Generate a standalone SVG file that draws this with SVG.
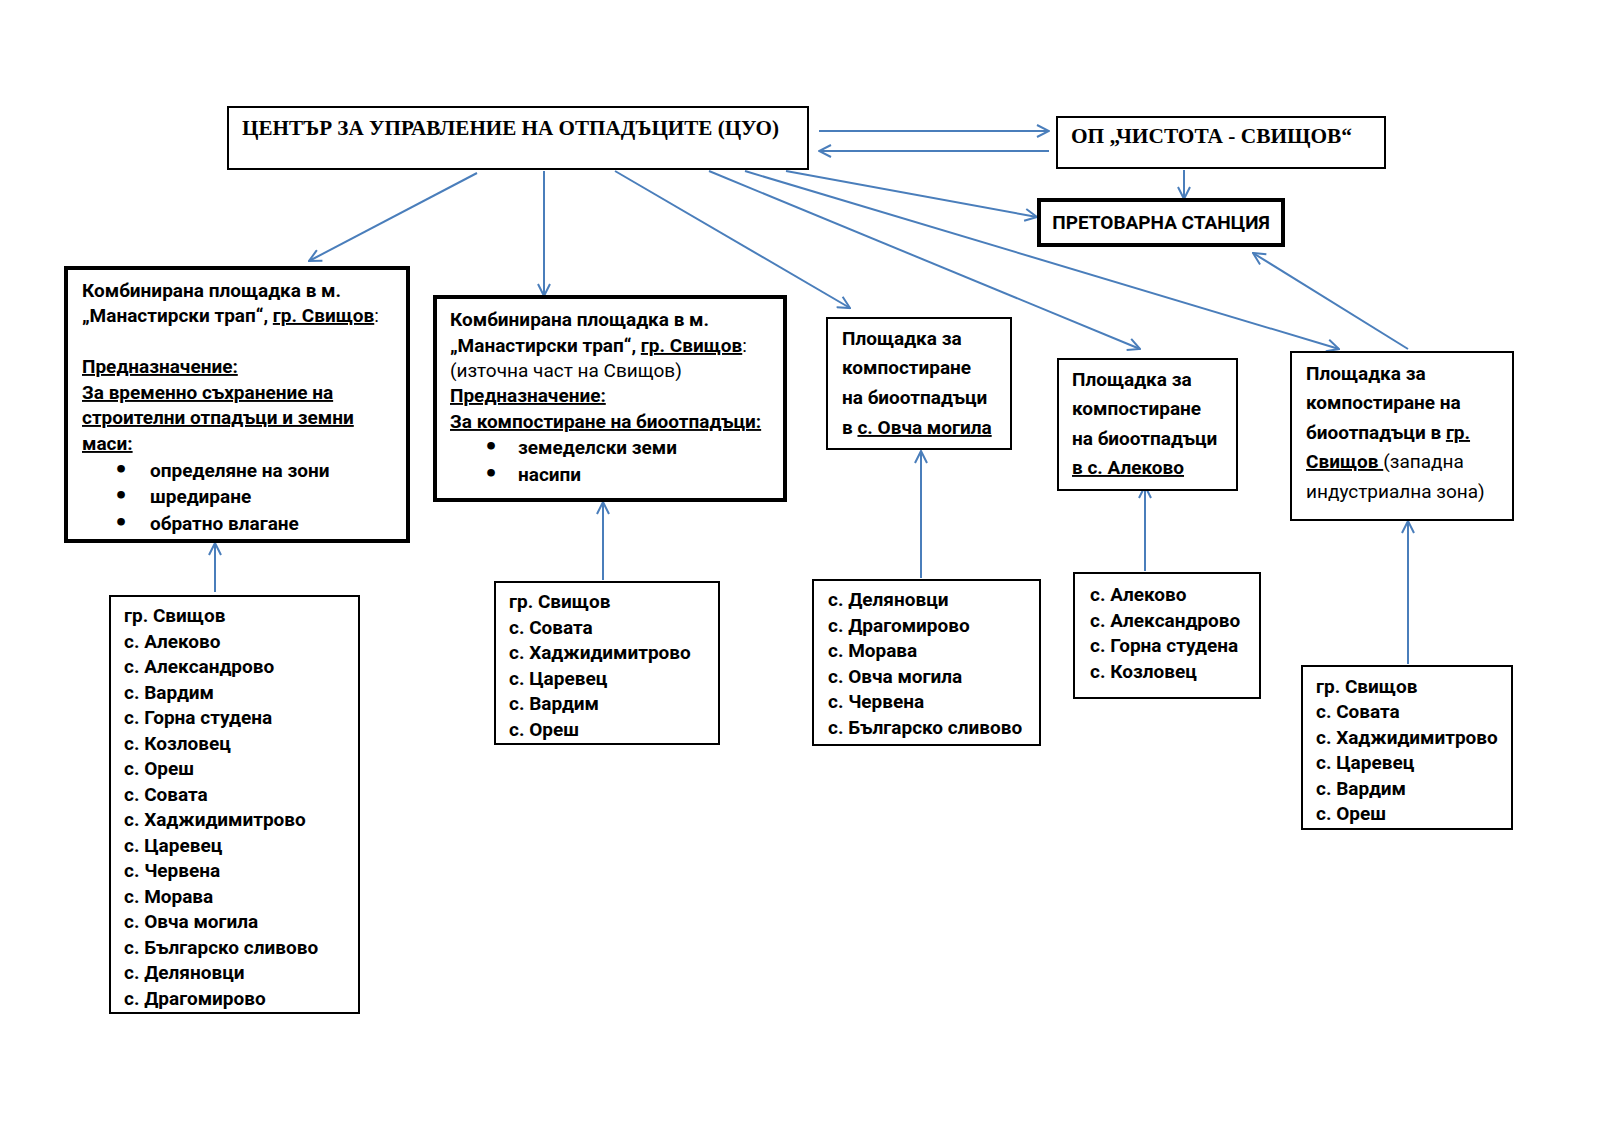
<svg xmlns="http://www.w3.org/2000/svg" width="1600" height="1131" viewBox="0 0 1600 1131">
<defs>
<style>
.bx{fill:#fff;stroke:#000;stroke-width:2}
.bxt{fill:#fff;stroke:#000;stroke-width:4}
.t{font-family:Roboto,"Liberation Sans",sans-serif;font-size:19px;font-weight:bold;fill:#000}
.r{font-weight:normal}
.u{text-decoration:underline}
.b{font-family:"DejaVu Sans",sans-serif;font-size:22px}
.s{font-family:"Liberation Serif","Times New Roman",serif;font-size:21px;font-weight:bold;fill:#000}
.c{stroke:#4A7EBB;stroke-width:2;fill:none;marker-end:url(#ah)}
</style>
<marker id="ah" viewBox="0 0 14 14" refX="13" refY="7" markerWidth="14" markerHeight="14" markerUnits="userSpaceOnUse" orient="auto">
<path d="M1,1 L13,7 L1,13" fill="none" stroke="#4A7EBB" stroke-width="2"/>
</marker>
</defs>
<rect width="1600" height="1131" fill="#fff"/>

<g id="connectors">
<line class="c" x1="819" y1="131" x2="1049" y2="131"/>
<line class="c" x1="1049" y1="151" x2="819" y2="151"/>
<line class="c" x1="1184" y1="170" x2="1184" y2="199"/>
<line class="c" x1="786" y1="171" x2="1037" y2="217"/>
<line class="c" x1="477" y1="173" x2="309" y2="261"/>
<line class="c" x1="544" y1="171" x2="544" y2="296"/>
<line class="c" x1="615" y1="171" x2="850" y2="308"/>
<line class="c" x1="709" y1="171" x2="1140" y2="349"/>
<line class="c" x1="745" y1="171" x2="1339" y2="349"/>
<line class="c" x1="1408" y1="349" x2="1253" y2="253"/>
<line class="c" x1="215" y1="592" x2="215" y2="543"/>
<line class="c" x1="603" y1="580" x2="603" y2="502"/>
<line class="c" x1="921" y1="578" x2="921" y2="451"/>
<line class="c" x1="1145" y1="571" x2="1145" y2="486"/>
<line class="c" x1="1408" y1="664" x2="1408" y2="521"/>
</g>

<g id="cuo">
<rect class="bx" x="228" y="107" width="580" height="62"/>
<text class="s" x="242" y="135" textLength="537" lengthAdjust="spacingAndGlyphs">ЦЕНТЪР ЗА УПРАВЛЕНИЕ НА ОТПАДЪЦИТЕ (ЦУО)</text>
</g>

<g id="op">
<rect class="bx" x="1057" y="117" width="328" height="51"/>
<text class="s" x="1071" y="143" textLength="281" lengthAdjust="spacingAndGlyphs">ОП „ЧИСТОТА - СВИЩОВ“</text>
</g>

<g id="station">
<rect class="bxt" x="1039" y="200" width="244" height="45"/>
<text class="t" x="1161" y="229" text-anchor="middle">ПРЕТОВАРНА СТАНЦИЯ</text>
</g>

<g id="site1">
<rect class="bxt" x="66" y="268" width="342" height="273"/>
<text class="t">
<tspan x="82" y="297">Комбинирана площадка в м.</tspan>
<tspan x="82" y="322">„Манастирски трап“, <tspan class="u">гр. Свищов</tspan><tspan class="r">:</tspan></tspan>
<tspan x="82" y="373" class="u">Предназначение:</tspan>
<tspan x="82" y="399" class="u">За временно съхранение на</tspan>
<tspan x="82" y="424" class="u">строителни отпадъци и земни</tspan>
<tspan x="82" y="450" class="u">маси:</tspan>
<tspan x="114" y="477" class="b">•</tspan><tspan x="150" y="477">определяне на зони</tspan>
<tspan x="114" y="503" class="b">•</tspan><tspan x="150" y="503">шредиране</tspan>
<tspan x="114" y="530" class="b">•</tspan><tspan x="150" y="530">обратно влагане</tspan>
</text>
</g>

<g id="site2">
<rect class="bxt" x="435" y="297" width="350" height="203"/>
<text class="t">
<tspan x="450" y="326">Комбинирана площадка в м.</tspan>
<tspan x="450" y="352">„Манастирски трап“, <tspan class="u">гр. Свищов</tspan><tspan class="r">:</tspan></tspan>
<tspan x="450" y="377" class="r">(източна част на Свищов)</tspan>
<tspan x="450" y="402" class="u">Предназначение:</tspan>
<tspan x="450" y="428" class="u">За компостиране на биоотпадъци:</tspan>
<tspan x="484" y="454" class="b">•</tspan><tspan x="518" y="454">земеделски земи</tspan>
<tspan x="484" y="481" class="b">•</tspan><tspan x="518" y="481">насипи</tspan>
</text>
</g>

<g id="site3">
<rect class="bx" x="827" y="318" width="184" height="131"/>
<text class="t">
<tspan x="842" y="345">Площадка за</tspan>
<tspan x="842" y="374">компостиране</tspan>
<tspan x="842" y="404">на биоотпадъци</tspan>
<tspan x="842" y="434">в <tspan class="u">с. Овча могила</tspan></tspan>
</text>
</g>

<g id="site4">
<rect class="bx" x="1058" y="359" width="179" height="131"/>
<text class="t">
<tspan x="1072" y="386">Площадка за</tspan>
<tspan x="1072" y="415">компостиране</tspan>
<tspan x="1072" y="445">на биоотпадъци</tspan>
<tspan x="1072" y="474" class="u">в с. Алеково</tspan>
</text>
</g>

<g id="site5">
<rect class="bx" x="1291" y="352" width="222" height="168"/>
<text class="t">
<tspan x="1306" y="380">Площадка за</tspan>
<tspan x="1306" y="409">компостиране на</tspan>
<tspan x="1306" y="439">биоотпадъци в <tspan class="u">гр.</tspan></tspan>
<tspan x="1306" y="468"><tspan class="u">Свищов </tspan><tspan class="r">(западна</tspan></tspan>
<tspan x="1306" y="498" class="r">индустриална зона)</tspan>
</text>
</g>

<g id="list1">
<rect class="bx" x="110" y="596" width="249" height="417"/>
<text class="t">
<tspan x="124" y="622">гр. Свищов</tspan>
<tspan x="124" y="647.5">с. Алеково</tspan>
<tspan x="124" y="673">с. Александрово</tspan>
<tspan x="124" y="698.5">с. Вардим</tspan>
<tspan x="124" y="724">с. Горна студена</tspan>
<tspan x="124" y="749.5">с. Козловец</tspan>
<tspan x="124" y="775">с. Ореш</tspan>
<tspan x="124" y="800.5">с. Совата</tspan>
<tspan x="124" y="826">с. Хаджидимитрово</tspan>
<tspan x="124" y="851.5">с. Царевец</tspan>
<tspan x="124" y="877">с. Червена</tspan>
<tspan x="124" y="902.5">с. Морава</tspan>
<tspan x="124" y="928">с. Овча могила</tspan>
<tspan x="124" y="953.5">с. Българско сливово</tspan>
<tspan x="124" y="979">с. Деляновци</tspan>
<tspan x="124" y="1004.5">с. Драгомирово</tspan>
</text>
</g>

<g id="list2">
<rect class="bx" x="495" y="582" width="224" height="162"/>
<text class="t">
<tspan x="509" y="608">гр. Свищов</tspan>
<tspan x="509" y="634">с. Совата</tspan>
<tspan x="509" y="659">с. Хаджидимитрово</tspan>
<tspan x="509" y="685">с. Царевец</tspan>
<tspan x="509" y="710">с. Вардим</tspan>
<tspan x="509" y="736">с. Ореш</tspan>
</text>
</g>

<g id="list3">
<rect class="bx" x="813" y="580" width="227" height="165"/>
<text class="t">
<tspan x="828" y="606">с. Деляновци</tspan>
<tspan x="828" y="632">с. Драгомирово</tspan>
<tspan x="828" y="657">с. Морава</tspan>
<tspan x="828" y="683">с. Овча могила</tspan>
<tspan x="828" y="708">с. Червена</tspan>
<tspan x="828" y="734">с. Българско сливово</tspan>
</text>
</g>

<g id="list4">
<rect class="bx" x="1074" y="573" width="186" height="125"/>
<text class="t">
<tspan x="1090" y="601">с. Алеково</tspan>
<tspan x="1090" y="627">с. Александрово</tspan>
<tspan x="1090" y="652">с. Горна студена</tspan>
<tspan x="1090" y="678">с. Козловец</tspan>
</text>
</g>

<g id="list5">
<rect class="bx" x="1302" y="666" width="210" height="163"/>
<text class="t">
<tspan x="1316" y="693">гр. Свищов</tspan>
<tspan x="1316" y="718">с. Совата</tspan>
<tspan x="1316" y="744">с. Хаджидимитрово</tspan>
<tspan x="1316" y="769">с. Царевец</tspan>
<tspan x="1316" y="795">с. Вардим</tspan>
<tspan x="1316" y="820">с. Ореш</tspan>
</text>
</g>
</svg>
